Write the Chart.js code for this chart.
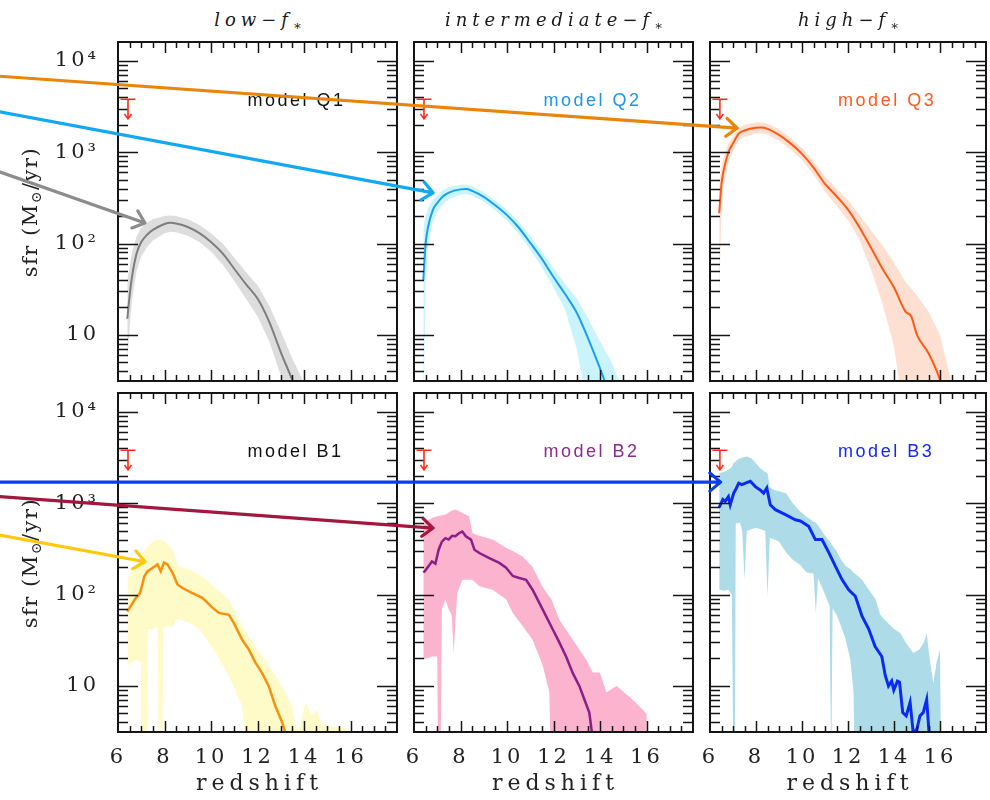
<!DOCTYPE html>
<html>
<head>
<meta charset="utf-8">
<script src="https://cdn.jsdelivr.net/npm/chart.js@4.4.1/dist/chart.umd.min.js"></script>
<style>
  body { margin: 0; background: #fff; }
  #page { position: relative; width: 990px; height: 800px; overflow: hidden; font-family: 'DejaVu Serif', serif; color: #222; }
  #page canvas { position: absolute; }
  .ptitle { position: absolute; top: 9px; font-size: 18px; font-style: italic; letter-spacing: 5px; white-space: nowrap; transform: translateX(-50%); color: #1a1a1a; }
  .ptitle sub { font-size: 13px; vertical-align: -4px; }
  .xtitle { position: absolute; top: 770px; font-size: 22px; letter-spacing: 5px; white-space: nowrap; transform: translateX(-50%); }
  .ytitle { position: absolute; left: 31px; font-size: 21px; letter-spacing: 1.5px; white-space: nowrap; transform: translate(-50%, -50%) rotate(-90deg); }
  .ytitle sub { font-size: 14px; vertical-align: -4px; }
</style>
</head>
<body>
<div id="page"></div>
<script>
// axis ticks
const xTickValues = [6, 8, 10, 12, 14, 16];
const xTickLabels = ['6', '8', '10', '12', '14', '16'];
const yTickValues = [10, 100, 1000, 10000];
const yTickLabels = ['10', '10\u00B2', '10\u00B3', '10\u2074'];
const zMin = 6, zMax = 18, sfrMin = 3.13, sfrMax = 16100;

// model Q1 (low f*)
const zQ1   = [6.4, 6.5, 6.6, 6.8, 7.0, 7.25, 7.5, 8.0, 8.25, 8.5, 9.0, 9.5, 10.0, 10.5, 11.0, 11.5, 12.0, 12.5, 13.0, 13.5, 14.0];
const medQ1 = [15, 27, 43, 78, 104, 125, 141, 164, 169, 166, 152, 130, 104, 78, 53, 36, 25, 14, 6.5, 3.2, 1.5];
const hiQ1  = [40, 55, 80, 120, 148, 170, 185, 200, 203, 200, 185, 160, 130, 100, 70, 49, 35, 21, 11, 5.5, 3];
const loQ1  = [5, 12, 24, 50, 72, 92, 108, 130, 135, 133, 122, 104, 82, 59, 39, 25, 16, 8.5, 3.6, 1.5, 1];

// model Q2 (intermediate f*)
const zQ2   = [6.4, 6.5, 6.6, 6.8, 7.0, 7.25, 7.5, 8.0, 8.25, 8.5, 9.0, 9.5, 10.0, 10.5, 11.0, 11.5, 12.0, 12.5, 13.0, 13.5, 14.0, 14.5, 15.0];
const medQ2 = [40, 100, 150, 230, 278, 330, 362, 392, 395, 378, 325, 262, 205, 150, 102, 68, 43, 28, 17.5, 9, 4.3, 2, 1];
const hiQ2  = [150, 200, 240, 300, 340, 385, 415, 440, 442, 425, 365, 296, 235, 175, 120, 82, 54, 36, 25, 15, 8.5, 5, 2.5];
const loQ2  = [1, 35, 90, 175, 222, 272, 305, 345, 350, 333, 288, 230, 178, 128, 86, 55, 33, 19, 7, 1.5, 1, 1, 1];

// model Q3 (high f*)
const zQ3   = [6.4, 6.5, 6.6, 6.8, 7.0, 7.25, 7.5, 8.0, 8.25, 8.5, 9.0, 9.5, 10.0, 10.5, 11.0, 11.5, 12.0, 12.5, 13.0, 13.5, 14.0, 14.5, 14.75, 15.0, 15.5, 16.0, 16.5];
const medQ3 = [215, 450, 640, 1000, 1250, 1600, 1730, 1850, 1860, 1800, 1550, 1250, 960, 680, 450, 330, 235, 150, 90, 53, 33, 18, 15.9, 10, 6.3, 3.2, 1];
const hiQ3  = [420, 700, 900, 1250, 1500, 1850, 2000, 2120, 2130, 2060, 1780, 1440, 1110, 800, 540, 400, 300, 205, 140, 95, 62, 38, 32, 27, 18, 10, 3];
const loQ3  = [24, 250, 450, 780, 1020, 1350, 1480, 1600, 1610, 1560, 1340, 1070, 820, 570, 370, 260, 180, 110, 52, 22, 7.5, 1, 1, 1, 1, 1, 1];

// model B1 (low f*)
const zB1     = [6.4, 6.46, 6.63, 6.77, 6.91, 6.99, 7.13, 7.27, 7.48, 7.7, 7.84, 7.98, 8.13, 8.34, 8.56, 8.77, 9.2, 9.63, 10.06, 10.34, 10.77, 10.98, 11.34, 11.63, 11.91, 12.2, 12.48, 12.77, 13.06, 13.3];
const medB1   = [65, 69, 81, 92, 100, 113, 158, 180, 195, 214, 180, 224, 214, 174, 129, 118, 104, 92, 72, 63, 60, 49, 32, 25, 18, 13.8, 10, 6, 4, 2.5];
const zB1band = [6.4, 6.77, 6.99, 7.03, 7.25, 7.3, 7.5, 7.7, 7.76, 7.9, 7.95, 8.1, 8.4, 8.5, 8.6, 9.0, 9.5, 10.2, 10.77, 11.34, 11.63, 11.91, 12.48, 13.06, 13.49, 13.63, 13.8, 14.06, 14.35, 14.56, 14.77, 15.9, 16.0];
const hiB1    = [150, 205, 270, 280, 330, 340, 380, 400, 400, 395, 390, 360, 300, 230, 205, 190, 165, 118, 88, 45, 35, 27, 16.6, 10, 6, 3.6, 3.3, 6.6, 4.7, 5.5, 3.7, 3.4, 1];
const loB1    = [16.6, 19.5, 18, 1, 1, 42, 42, 45, 1, 1, 42, 45, 45, 54, 54, 50, 42, 23, 12.7, 6, 1, 1, 1, 1, 1, 1, 1, 1, 1, 1, 1, 1, 1];

// model B2 (intermediate f*)
const zB2     = [6.4, 6.46, 6.63, 6.77, 6.92, 7.06, 7.2, 7.35, 7.49, 7.64, 7.78, 7.93, 8.08, 8.23, 8.45, 8.6, 8.81, 9.24, 9.67, 9.96, 10.25, 10.53, 10.82, 11.1, 11.39, 11.68, 11.96, 12.25, 12.54, 12.83, 13.11, 13.33, 13.54, 13.7];
const medB2   = [175, 180, 205, 230, 218, 310, 380, 415, 400, 440, 435, 470, 490, 435, 400, 310, 285, 250, 222, 197, 160, 152, 145, 113, 81, 58, 42, 30, 21, 13.8, 10, 7.1, 5.1, 2.5];
const zB2band = [6.4, 6.77, 7.0, 7.04, 7.14, 7.2, 7.35, 7.49, 7.62, 7.71, 7.8, 7.86, 8.08, 8.37, 8.52, 8.81, 9.38, 9.96, 10.25, 10.68, 11.1, 11.54, 11.82, 11.9, 12.25, 12.83, 13.4, 13.69, 13.99, 14.28, 14.71, 15.42, 16.0, 16.05];
const hiB2    = [605, 690, 720, 720, 735, 740, 750, 790, 830, 850, 850, 840, 780, 720, 470, 440, 400, 325, 300, 260, 200, 120, 95, 90, 53, 32, 19.5, 14, 14, 8.5, 10, 7, 5, 1];
const loB2    = [19.5, 21, 21, 1, 1, 69, 89, 69, 60, 23, 60, 104, 145, 145, 145, 123, 113, 89, 63, 45, 32, 16.6, 8.5, 1, 1, 1, 1, 1, 1, 1, 1, 1, 1, 1];

// model B3 (high f*)
const zB3     = [6.4, 6.45, 6.56, 6.66, 6.8, 6.88, 7.03, 7.14, 7.25, 7.39, 7.54, 7.75, 7.97, 8.18, 8.33, 8.47, 8.62, 8.84, 9.28, 9.71, 9.93, 10.29, 10.58, 10.87, 11.16, 11.45, 11.74, 12.03, 12.32, 12.61, 12.9, 13.18, 13.47, 13.62, 13.76, 13.9, 13.99, 14.15, 14.24, 14.38, 14.53, 14.7, 14.84, 15.0, 15.13, 15.27, 15.42, 15.55];
const medB3   = [900, 960, 1100, 1050, 1180, 960, 1290, 1450, 1660, 1600, 1660, 1740, 1520, 1400, 1290, 1470, 960, 850, 750, 660, 640, 560, 400, 400, 290, 205, 146, 113, 96, 58, 42, 27, 21, 13, 10, 11.3, 9, 11.3, 11, 5.1, 4.7, 6.6, 3.0, 3.4, 4.7, 5.1, 7.1, 2.5];
const zB3band = [6.4, 6.6, 6.8, 6.95, 7.02, 7.08, 7.12, 7.3, 7.4, 7.5, 7.6, 7.8, 8.0, 8.2, 8.4, 8.5, 8.6, 8.8, 9.0, 9.3, 9.6, 9.9, 10.2, 10.5, 10.6, 10.7, 11.0, 11.2, 11.27, 11.33, 11.5, 11.7, 11.9, 12.1, 12.24, 12.3, 12.6, 13.0, 13.2, 13.4, 13.6, 13.8, 14.0, 14.27, 14.5, 14.84, 15.1, 15.3, 15.42, 15.55, 15.71, 15.85, 16.0, 16.05];
const hiB3    = [2140, 2200, 2320, 2500, 2740, 2800, 2900, 3100, 3150, 3200, 3250, 3100, 2740, 2400, 2200, 2140, 1500, 1400, 1350, 1290, 1000, 820, 710, 630, 610, 570, 440, 380, 360, 340, 300, 240, 205, 190, 175, 170, 146, 105, 89, 60, 53, 47, 42, 38, 30, 23, 25, 30, 38, 20, 10.7, 18, 25, 1];
const loB3    = [113, 110, 113, 100, 1, 1, 600, 610, 500, 146, 500, 520, 540, 520, 500, 95, 420, 400, 380, 290, 240, 213, 175, 170, 63, 150, 100, 75, 1, 70, 60, 45, 32, 19.5, 8.5, 1, 1, 1, 1, 1, 1, 1, 1, 1, 1, 1, 1, 1, 1, 1, 1, 1, 1, 1];

// observed upper limit (same in every panel)
const ulZ = 6.43, ulTop = 3800, ulTip = 2320;
// model label anchor
const labelZ = 11.57, labelSfr = 3650;

// panel grid (pixels)
const colLeft = [118, 414, 710], colWidth = [279, 279, 276];
const rowTop = [42, 393], rowHeight = 339;

const panels = [
  {id: 'Q1', row: 0, col: 0, z: zQ1, med: medQ1, zb: zQ1, lo: loQ1, hi: hiQ1, line: '#7d7d7d', band: '#dddddd', lw: 2, smooth: true, label: 'model Q1', labelColor: '#111'},
  {id: 'Q2', row: 0, col: 1, z: zQ2, med: medQ2, zb: zQ2, lo: loQ2, hi: hiQ2, line: '#1a9ff0', band: '#c9f4fb', lw: 2, smooth: true, label: 'model Q2', labelColor: '#1e93f0'},
  {id: 'Q3', row: 0, col: 2, z: zQ3, med: medQ3, zb: zQ3, lo: loQ3, hi: hiQ3, line: '#ff5a14', band: '#fde0d2', lw: 2, smooth: true, label: 'model Q3', labelColor: '#ff5a1e'},
  {id: 'B1', row: 1, col: 0, z: zB1, med: medB1, zb: zB1band, lo: loB1, hi: hiB1, line: '#f7900c', band: '#fffbc9', lw: 2.5, smooth: false, label: 'model B1', labelColor: '#111'},
  {id: 'B2', row: 1, col: 1, z: zB2, med: medB2, zb: zB2band, lo: loB2, hi: hiB2, line: '#8a1f8a', band: '#fcb3cd', lw: 2.5, smooth: false, label: 'model B2', labelColor: '#8e2a8e'},
  {id: 'B3', row: 1, col: 2, z: zB3, med: medB3, zb: zB3band, lo: loB3, hi: hiB3, line: '#0a2cf2', band: '#addce8', lw: 3, smooth: false, label: 'model B3', labelColor: '#1428f0'}
];

const titles = ['low\u2212<i>f</i><sub>\u2217</sub>', 'intermediate\u2212<i>f</i><sub>\u2217</sub>', 'high\u2212<i>f</i><sub>\u2217</sub>'];

// arrows: from a point at the page's left edge (in the left panel's coords) to a model peak
const arrows = [
  {color: '#e8850c', from: ['Q1', 0.9, 6800], to: ['Q3', 7.18, 1840]},
  {color: '#12a8f2', from: ['Q1', 0.9, 2780], to: ['Q2', 6.82, 359]},
  {color: '#8c8c8c', from: ['Q1', 0.9, 610], to: ['Q1', 7.16, 168]},
  {color: '#0a3cf2', from: ['B1', 0.9, 1703], to: ['B3', 6.46, 1703]},
  {color: '#a3173f', from: ['B1', 0.9, 1180], to: ['B2', 6.82, 535]},
  {color: '#ffc80a', from: ['B1', 0.9, 450], to: ['B1', 7.16, 229]}
];

const page = document.getElementById('page');
const pts = (xs, ys) => xs.map((x, i) => ({x: x, y: ys[i]}));

function framePlugin(p) {
  return {
    id: 'frame' + p.id,
    beforeDraw(chart) {
      chart.ctx.letterSpacing = '3px';
    },
    afterDatasetsDraw(chart) {
      const ctx = chart.ctx, a = chart.chartArea, x = chart.scales.x, y = chart.scales.y;
      ctx.save();
      ctx.letterSpacing = '0px';
      ctx.strokeStyle = '#151515';
      ctx.lineWidth = 1.5;
      ctx.beginPath();
      // x ticks on bottom and top, inward
      for (let v = zMin + 0.5; v < zMax; v += 0.5) {
        const px = Math.round(x.getPixelForValue(v)) + 0.5;
        const len = v % 2 === 0 ? 11 : 6;
        ctx.moveTo(px, a.bottom); ctx.lineTo(px, a.bottom - len);
        ctx.moveTo(px, a.top); ctx.lineTo(px, a.top + len);
      }
      // y ticks on left and right, inward
      for (let d = 1; d <= 10000; d *= 10) {
        for (let m = 1; m <= 9; m++) {
          const v = m * d;
          if (v <= sfrMin || v >= sfrMax) continue;
          const py = Math.round(y.getPixelForValue(v)) + 0.5;
          const len = m === 1 ? 20 : 10;
          ctx.moveTo(a.left, py); ctx.lineTo(a.left + len, py);
          ctx.moveTo(a.right, py); ctx.lineTo(a.right - len, py);
        }
      }
      ctx.stroke();
      ctx.lineWidth = 2;
      ctx.strokeRect(a.left, a.top, a.right - a.left, a.bottom - a.top);

      // upper limit marker
      const ux = x.getPixelForValue(ulZ), uy1 = y.getPixelForValue(ulTop), uy2 = y.getPixelForValue(ulTip);
      ctx.strokeStyle = '#ff2a1a';
      ctx.lineWidth = 1.6;
      ctx.beginPath();
      ctx.moveTo(ux - 7.5, uy1); ctx.lineTo(ux + 7.5, uy1);
      ctx.moveTo(ux, uy1); ctx.lineTo(ux, uy2);
      ctx.moveTo(ux - 3.5, uy2 - 5); ctx.lineTo(ux, uy2); ctx.lineTo(ux + 3.5, uy2 - 5);
      ctx.stroke();

      // model label
      ctx.font = '18px "Liberation Sans", Arial, sans-serif';
      ctx.letterSpacing = '2.5px';
      ctx.fillStyle = p.labelColor;
      ctx.textAlign = 'left';
      ctx.textBaseline = 'middle';
      ctx.fillText(p.label, x.getPixelForValue(labelZ), y.getPixelForValue(labelSfr));
      ctx.restore();
    }
  };
}

const charts = {};
panels.forEach(p => {
  const L = colLeft[p.col], T = rowTop[p.row], W = colWidth[p.col], H = rowHeight;
  const showY = p.col === 0, showX = p.row === 1;
  const padL = showY ? 0 : 20;
  const cx = L - (showY ? L : padL), cy = T - 4;
  const cw = L + W + 4 - cx, ch = (showX ? 800 : T + H + 4) - cy;
  const canvas = document.createElement('canvas');
  canvas.width = cw; canvas.height = ch;
  canvas.style.left = cx + 'px'; canvas.style.top = cy + 'px';
  page.appendChild(canvas);

  charts[p.id] = new Chart(canvas, {
    type: 'line',
    data: {
      datasets: [
        {data: pts(p.z, p.med), borderColor: p.line, borderWidth: p.lw, pointRadius: 0, fill: false,
         tension: p.smooth ? 0.4 : 0, cubicInterpolationMode: p.smooth ? 'monotone' : 'default', order: 0},
        {data: pts(p.zb, p.lo), borderWidth: 0, pointRadius: 0, fill: false, order: 2},
        {data: pts(p.zb, p.hi), borderWidth: 0, pointRadius: 0, fill: '-1', backgroundColor: p.band, order: 1}
      ]
    },
    options: {
      responsive: false,
      animation: false,
      devicePixelRatio: 1,
      layout: {padding: {left: padL, right: 4, top: 4, bottom: showX ? 0 : 4}},
      plugins: {legend: {display: false}, tooltip: {enabled: false}},
      scales: {
        x: {
          type: 'linear', min: zMin, max: zMax, display: showX,
          grid: {display: false}, border: {display: false},
          afterBuildTicks: s => { s.ticks = xTickValues.map(v => ({value: v})); },
          ticks: {autoSkip: false, maxRotation: 0, padding: 5, color: '#222',
                  font: {family: 'DejaVu Serif', size: 21},
                  callback: v => xTickLabels[xTickValues.indexOf(v)]},
          afterFit: s => {
            s.height = showX ? 800 - (T + H) : 0;
            s.paddingLeft = 0; s.paddingRight = 0;
          }
        },
        y: {
          type: 'logarithmic', min: sfrMin, max: sfrMax, display: showY,
          grid: {display: false}, border: {display: false},
          afterBuildTicks: s => { s.ticks = yTickValues.map(v => ({value: v})); },
          ticks: {autoSkip: false, padding: 11, color: '#222',
                  font: {family: 'DejaVu Serif', size: 21},
                  callback: v => yTickLabels[yTickValues.indexOf(v)]},
          afterFit: s => {
            s.width = showY ? L : 0;
            s.paddingTop = 0; s.paddingBottom = 0;
          }
        }
      }
    },
    plugins: [framePlugin(p)]
  });
  charts[p.id].$left = cx;
  charts[p.id].$top = cy;
});

// titles
[0, 1, 2].forEach(c => {
  const t = document.createElement('div');
  t.className = 'ptitle';
  t.innerHTML = titles[c];
  t.style.left = (colLeft[c] + colWidth[c] / 2 + 3) + 'px';
  page.appendChild(t);
  const xt = document.createElement('div');
  xt.className = 'xtitle';
  xt.textContent = 'redshift';
  xt.style.left = (colLeft[c] + colWidth[c] / 2 + 2) + 'px';
  page.appendChild(xt);
});
[0, 1].forEach(r => {
  const yt = document.createElement('div');
  yt.className = 'ytitle';
  yt.innerHTML = 'sfr (M<sub>\u2299</sub>/yr)';
  yt.style.top = (rowTop[r] + rowHeight / 2) + 'px';
  page.appendChild(yt);
});

// arrow overlay
const over = document.createElement('canvas');
over.width = 990; over.height = 800;
over.style.left = '0px'; over.style.top = '0px'; over.style.zIndex = 5;
page.appendChild(over);
const octx = over.getContext('2d');
function pagePt(ref) {
  const c = charts[ref[0]];
  return [c.$left + c.scales.x.getPixelForValue(ref[1]), c.$top + c.scales.y.getPixelForValue(ref[2])];
}
arrows.forEach(ar => {
  const [x1, y1] = pagePt(ar.from), [x2, y2] = pagePt(ar.to);
  const ang = Math.atan2(y2 - y1, x2 - x1);
  octx.strokeStyle = ar.color;
  octx.lineWidth = 3.2;
  octx.lineCap = 'round';
  octx.lineJoin = 'round';
  octx.beginPath();
  octx.moveTo(x1, y1); octx.lineTo(x2, y2);
  octx.moveTo(x2 - 14 * Math.cos(ang - 0.7), y2 - 14 * Math.sin(ang - 0.7));
  octx.lineTo(x2, y2);
  octx.lineTo(x2 - 14 * Math.cos(ang + 0.7), y2 - 14 * Math.sin(ang + 0.7));
  octx.stroke();
});
</script>
</body>
</html>
